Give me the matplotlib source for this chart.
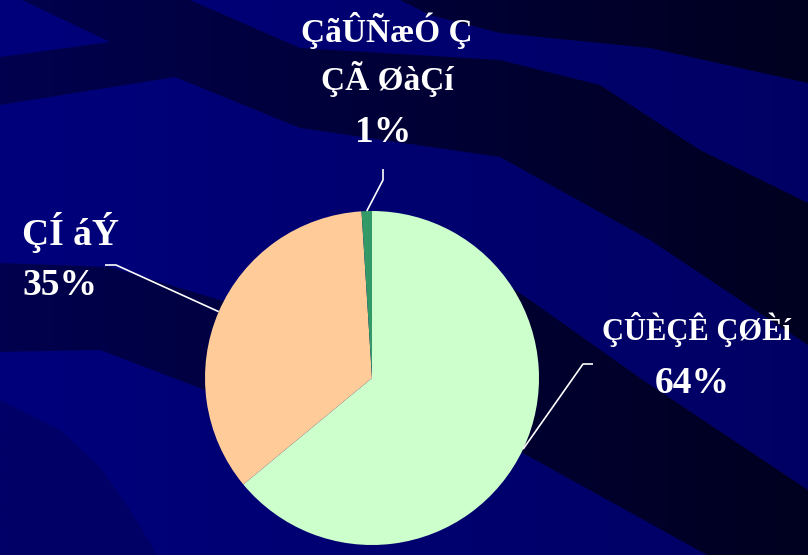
import numpy as np
import matplotlib
matplotlib.use("Agg")
import matplotlib.pyplot as plt
from matplotlib.patches import Polygon

W, H = 808, 555

# pie data
names = ["ÇÛÈÇÊ ÇØÈí", "ÇÍ áÝ", "ÇãÛÑæÓ Ç\nÇÃ ØàÇí"]
shares = [64, 35, 1]
colors = ["#CCFFCC", "#FFCC99", "#339966"]


def px(y):
    # pixel rows are counted from the top
    return H - y


fig = plt.figure(figsize=(W / 100, H / 100), dpi=100)
ax = fig.add_axes([0, 0, 1, 1])


def gradient(left, right, zorder, clip=None):
    ramp = np.linspace(0, 1, 256)
    rgb = np.array(left)[None, :] * (1 - ramp[:, None]) + np.array(right)[None, :] * ramp[:, None]
    img = ax.imshow(rgb[None, :, :] / 255, extent=[0, W, 0, H], aspect="auto",
                    interpolation="bilinear", zorder=zorder)
    if clip is not None:
        img.set_clip_path(clip)
    return img


# background: navy with darker sweeping bands
gradient((0, 0, 124), (0, 0, 100), 0)

bands = [
    [(22, 0), (190, 0), (300, 48), (500, 60), (600, 85), (700, 150), (808, 203),
     (808, 345), (740, 300), (650, 240), (500, 157), (300, 128), (175, 77),
     (0, 105), (0, 57), (110, 42)],
    [(400, 0), (808, 0), (808, 83), (650, 48), (500, 33), (430, 15)],
    [(470, 260), (530, 300), (640, 378), (808, 490), (808, 555), (707, 555),
     (530, 457), (470, 425)],
    [(0, 263), (110, 267), (230, 303), (270, 330), (260, 430), (205, 390),
     (100, 350), (0, 352)],
]
for pts in bands:
    poly = Polygon([(x, px(y)) for x, y in pts], closed=True, facecolor="none",
                   edgecolor="none", transform=ax.transData)
    ax.add_patch(poly)
    gradient((0, 0, 78), (0, 0, 32), 1, clip=poly)

shade = Polygon([(x, px(y)) for x, y in [(0, 400), (60, 430), (100, 467), (130, 510),
                                          (157, 555), (0, 555)]],
                closed=True, facecolor="none", edgecolor="none")
ax.add_patch(shade)
gradient((0, 0, 104), (0, 0, 90), 1, clip=shade)

# the pie itself
cx, cy, r = 372, px(378), 167
wedges, _ = ax.pie(shares, colors=colors, startangle=90, counterclock=False,
                   center=(cx, cy), radius=r, wedgeprops=dict(linewidth=0))
for w in wedges:
    w.set_zorder(3)

# leader line elbows (pixel coords)
elbows = [[(583, 364), (593, 364)], [(116, 265), (105, 265)], [(383, 180), (383, 169)]]
for w, pts in zip(wedges, elbows):
    mid = np.deg2rad((w.theta1 + w.theta2) / 2)
    xs = [cx + r * np.cos(mid)] + [p[0] for p in pts]
    ys = [cy + r * np.sin(mid)] + [px(p[1]) for p in pts]
    ax.plot(xs, ys, color="white", lw=1.2, zorder=4, solid_capstyle="butt")

font = dict(family="Liberation Serif", weight="bold", color="white", zorder=5)


def label(x, y, s, ha="left", size=27):
    return ax.text(x, px(y), s, ha=ha, va="baseline", fontsize=size, **font)


label(697, 340, names[0], ha="center", size=22)
label(692, 393, f"{shares[0]}%", ha="center")

label(22, 245, names[1])
label(22, 295, f"{shares[1]}%")

top1, top2 = names[2].split("\n")
label(387, 42, top1, ha="center", size=24)
label(387, 90, top2, ha="center", size=24)
label(383, 142, f"{shares[2]}%", ha="center")

ax.set_xlim(0, W)
ax.set_ylim(0, H)
ax.set_aspect("auto")
ax.set_axis_off()

fig.savefig("out.png", dpi=100)
